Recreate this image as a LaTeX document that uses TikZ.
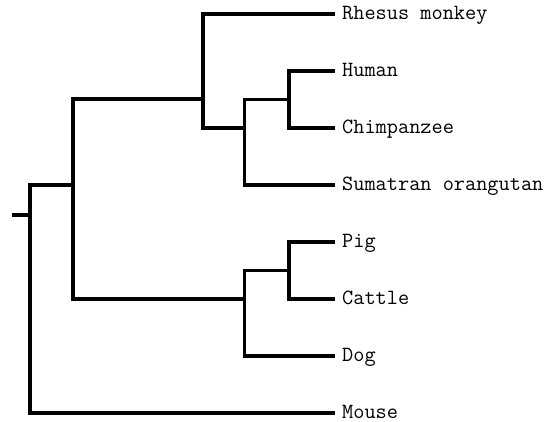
\documentclass[tikz,border=0pt]{standalone}
\usepackage{fontspec}
\begin{document}
\begin{tikzpicture}[x=1pt,y=-1pt,
  br/.style={line width=3.3pt, line join=miter, line cap=butt, black},
  lab/.style={anchor=base west, inner sep=0pt, xshift=7pt, yshift=-5.8pt,
    font=\fontsize{21.7}{22}\selectfont\ttfamily}]
\useasboundingbox (0,0) rectangle (548,422);
% leaves (line ends)
\coordinate (rh) at (335,14);
\coordinate (hu) at (335,71);
\coordinate (ch) at (335,128);
\coordinate (su) at (335,185);
\coordinate (pi) at (335,242);
\coordinate (ca) at (335,299);
\coordinate (do) at (335,356);
\coordinate (mo) at (335,413);
% internal nodes (where the parent's branch meets)
\coordinate (hc) at (289,99.5);
\coordinate (hcs) at (244.5,128);
\coordinate (prim) at (203,99);
\coordinate (pc) at (289,270.5);
\coordinate (pcd) at (244.5,299);
\coordinate (big) at (73,185);
\coordinate (root) at (30,215);
\coordinate (stub) at (12,215);
% branches
\draw[br] (hu) -| (hc) |- (ch);
\draw[br] (hc) -| (hcs) |- (su);
\draw[br] (rh) -| (prim) |- (hcs);
\draw[br] (pi) -| (pc) |- (ca);
\draw[br] (pc) -| (pcd) |- (do);
\draw[br] (prim) -| (big) |- (pcd);
\draw[br] (big) -| (root) |- (mo);
\draw[br] (stub) -- (root);
% labels
\node[lab] (lrh) at (rh) {Rhesus monkey};
\node[lab] (lhu) at (hu) {Human};
\node[lab] (lch) at (ch) {Chimpanzee};
\node[lab] (lsu) at (su) {Sumatran orangutan};
\node[lab] (lpi) at (pi) {Pig};
\node[lab] (lca) at (ca) {Cattle};
\node[lab] (ldo) at (do) {Dog};
\node[lab] (lmo) at (mo) {Mouse};
\end{tikzpicture}
\end{document}
